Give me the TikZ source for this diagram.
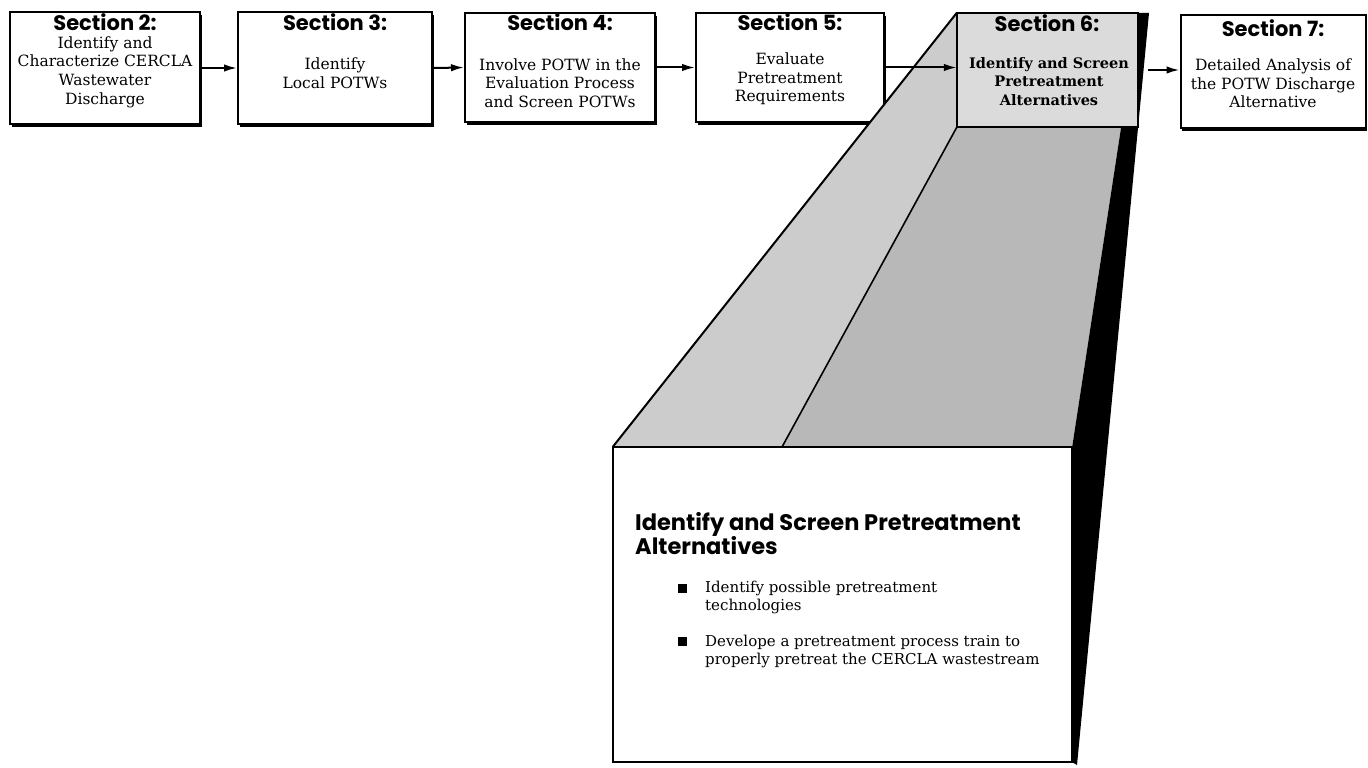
\documentclass[tikz,border=0pt]{standalone}
\usepackage{fontspec}
\setmainfont{DejaVu Serif}
\newfontfamily\headfont{Poppins}
\usetikzlibrary{arrows.meta,shadows}

\begin{document}
\begin{tikzpicture}[x=1pt,y=-1pt,
  stagebox/.style={draw=black, line width=2pt, fill=white, inner sep=0pt,
    minimum height=112pt,
    drop shadow={shadow xshift=1.5pt, shadow yshift=-3pt, opacity=1, fill=black}},
  heading/.style={font=\headfont\bfseries\fontsize{21}{22}\selectfont, inner sep=0pt},
  body/.style={font=\fontsize{15.5}{18.7}\selectfont, align=center, inner sep=0pt},
  bullettext/.style={font=\fontsize{15}{18}\selectfont, align=left, inner sep=0pt, anchor=north west},
  bulletsq/.style={fill=black, minimum size=9pt, inner sep=0pt},
  arr/.style={line width=2pt, -{Latex[length=13pt,width=7.5pt]}},
  edge line/.style={line width=2pt, line join=round}
]
\useasboundingbox (0,0) rectangle (1368,768);

% ---- stage boxes ----
\node[stagebox, minimum width=190pt] (b2) at (105,68) {};
\node[stagebox, minimum width=194pt] (b3) at (335,68) {};
\node[stagebox, minimum width=190pt, minimum height=109pt] (b4) at (560,67.5) {};
\node[stagebox, minimum width=188pt, minimum height=109pt] (b5) at (790,67.5) {};
\node[stagebox, minimum width=185pt, minimum height=113pt] (b7) at (1273,71.5) {};

% ---- expanded view of Section 6 ----
\coordinate (mid) at (782,447);
\coordinate (rt) at (1121,128);
\coordinate (dk1) at (1149,13);
\coordinate (dk2) at (1077,765);
\node[draw=none, minimum width=459pt, minimum height=315pt, inner sep=0pt] (zb) at (842.5,604.5) {};
\node[draw=none, minimum width=181pt, minimum height=114pt, inner sep=0pt] (b6) at (1047.5,70) {};

% top faces
\fill[black!20] (b6.north west) -- (b6.south west) -- (mid) -- (zb.north west) -- cycle;
\fill[black!28] (b6.south west) -- (rt) -- (zb.north east) -- (mid) -- cycle;
% dark side face
\fill[black] (b6.north east) -- (dk1) -- (dk2) -- (zb.south east) -- (zb.north east) -- (rt) -- (b6.south east) -- cycle;

% front face
\fill[black] ([xshift=2pt]zb.south west) rectangle ([yshift=3.5pt]zb.south east);
\draw[line width=2pt, fill=white] (zb.north west) rectangle (zb.south east);

% back face (the Section 6 box)
\fill[black] (b6.south west) rectangle ([yshift=3.5pt]b6.south east);
\draw[line width=1.6pt, fill=black!14] (b6.north west) rectangle (b6.south east);

% receding edges
\draw[edge line] (b6.north west) -- (zb.north west);
\draw[line width=1.6pt] (b6.south west) -- (mid);

% ---- headings ----
\node[heading] (h2) at (105,22.5) {Section 2:};
\node[heading] (h3) at (335,22.5) {Section 3:};
\node[heading] (h4) at (560,22.5) {Section 4:};
\node[heading] (h5) at (790,22.5) {Section 5:};
\node[heading] (h6) at (1047,23) {Section 6:};
\node[heading] (h7) at (1273,28) {Section 7:};

% ---- stage descriptions ----
\node[body] (t2) at (105,72) {Identify and\\Characterize CERCLA\\Wastewater\\Discharge};
\node[body] (t3) at (335,73.5) {Identify\\Local POTWs};
\node[body] (t4) at (560,83) {Involve POTW in the\\Evaluation Process\\and Screen POTWs};
\node[body] (t5) at (790,79) {Evaluate\\Pretreatment\\Requirements};
\node[body, font=\bfseries\fontsize{14.5}{18.7}\selectfont] (t6) at (1049,81.5) {Identify and Screen\\Pretreatment\\Alternatives};
\node[body] (t7) at (1273,83.5) {Detailed Analysis of\\the POTW Discharge\\Alternative};

% ---- flow arrows ----
\draw[arr] (b2.east) -- (b3.west);
\draw[arr] (b3.east) -- (b4.west);
\draw[arr] (b4.east) -- (b5.west);
\draw[arr] (b5.east) -- (b5.east -| b6.west);
\draw[arr] ([xshift=10pt]b6.east) -- (b7.west |- b6.east);

% ---- detail panel text ----
\node[font=\headfont\bfseries\fontsize{22.5}{24}\selectfont, align=left, inner sep=0pt, anchor=north west]
  (ztitle) at (635,512) {Identify and Screen Pretreatment\\Alternatives};
\node[bulletsq] (s1) at (682,588) {};
\node[bullettext] (l1) at (705,581) {Identify possible pretreatment\\technologies};
\node[bulletsq] (s2) at (682,641) {};
\node[bullettext] (l2) at (705,635) {Develope a pretreatment process train to\\properly pretreat the CERCLA wastestream};
\end{tikzpicture}
\end{document}
